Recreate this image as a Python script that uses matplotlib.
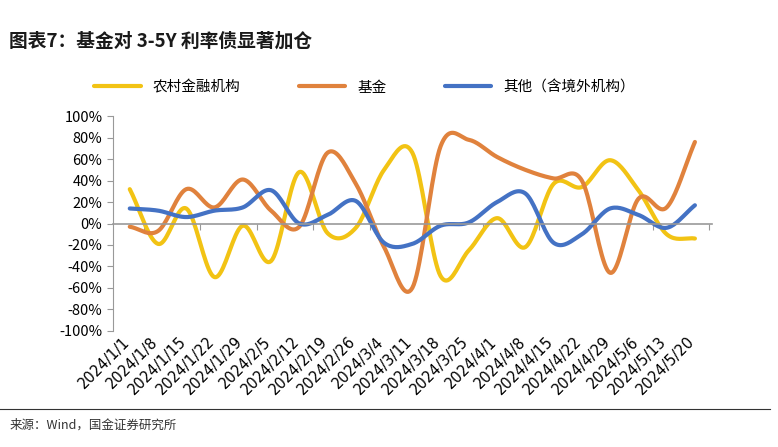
import numpy as np
import matplotlib
matplotlib.use("Agg")
import matplotlib.pyplot as plt

plt.rcParams['font.family'] = ['Noto Sans CJK SC', 'DejaVu Sans']

dates = ["2024/1/1","2024/1/8","2024/1/15","2024/1/22","2024/1/29","2024/2/5","2024/2/12",
         "2024/2/19","2024/2/26","2024/3/4","2024/3/11","2024/3/18","2024/3/25","2024/4/1",
         "2024/4/8","2024/4/15","2024/4/22","2024/4/29","2024/5/6","2024/5/13","2024/5/20"]
rural = [32,-19,14,-50,-2,-35,48,-9,-4,50,66,-49,-25,5,-22,37,34,59,31,-10,-14]
fund = [-3,-7,32,15,41,12,-3,66,37,-22,-60,72,78,62,50,42,40,-46,23,15,76]
other = [14,12,6,12,15,31,0,8,21,-18,-19,-2,1,20,28,-18,-10,14,8,-4,17]

def smooth(y, n=20):
    y = np.asarray(y, float)
    p = np.concatenate([[2*y[0]-y[1]], y, [2*y[-1]-y[-2]]])
    xs, ys = [], []
    for i in range(len(y)-1):
        p0, p1, p2, p3 = p[i], p[i+1], p[i+2], p[i+3]
        t = np.linspace(0, 1, n, endpoint=False)
        ys.append(0.5*((2*p1) + (-p0+p2)*t + (2*p0-5*p1+4*p2-p3)*t**2 + (-p0+3*p1-3*p2+p3)*t**3))
        xs.append(i + t)
    xs.append([len(y)-1]); ys.append([y[-1]])
    return np.concatenate(xs), np.concatenate(ys)

fig = plt.figure(figsize=(7.78, 4.47), dpi=100)
ax = fig.add_axes([0.145, 0.26, 0.77, 0.48])
colors = {'rural': '#F2C314', 'fund': '#E0823D', 'other': '#4472C4'}
for data, c, lab in [(rural, colors['rural'], '农村金融机构'), (fund, colors['fund'], '基金'), (other, colors['other'], '其他（含境外机构）')]:
    xs, ys = smooth(data)
    ax.plot(xs, ys, color=c, lw=3, label=lab, solid_capstyle='round')

ax.set_ylim(-100, 100)
ax.set_xlim(-0.6, len(dates)-0.4)
ax.set_yticks(range(-100, 101, 20))
ax.set_yticklabels([f"{v}%" for v in range(-100, 101, 20)], fontsize=10.5)
ax.spines['top'].set_visible(False)
ax.spines['right'].set_visible(False)
ax.spines['left'].set_color('#999999')
ax.spines['bottom'].set_position(('data', 0))
ax.spines['bottom'].set_color('#999999')
ax.spines['bottom'].set_linewidth(1.2)
ax.tick_params(axis='x', which='major', length=4, color='#999999', labelbottom=False)
ax.tick_params(axis='y', length=4, color='#999999')
for i, d in enumerate(dates):
    ax.text(i + 0.1, -103, d, rotation=45, ha='right', va='top', fontsize=10.5,
            fontfamily='DejaVu Sans', transform=ax.transData)
ax.set_xticks(np.arange(0, len(dates), 2) + 0.5)

ax.legend(loc='lower center', bbox_to_anchor=(0.42, 1.04), ncol=3, frameon=False,
          fontsize=10.5, handlelength=3.2, columnspacing=4)

fig.text(0.012, 0.895, "图表7：基金对 3-5Y 利率债显著加仓", fontsize=13.5, fontweight='bold',
         style='italic', color='#1a1a1a')
fig.add_artist(plt.Line2D([0.0, 0.99], [0.085, 0.085], color='#333333', lw=0.8))
fig.text(0.012, 0.04, "来源：Wind，国金证券研究所", fontsize=9, color='#333333')

fig.savefig("out.png", dpi=100)
